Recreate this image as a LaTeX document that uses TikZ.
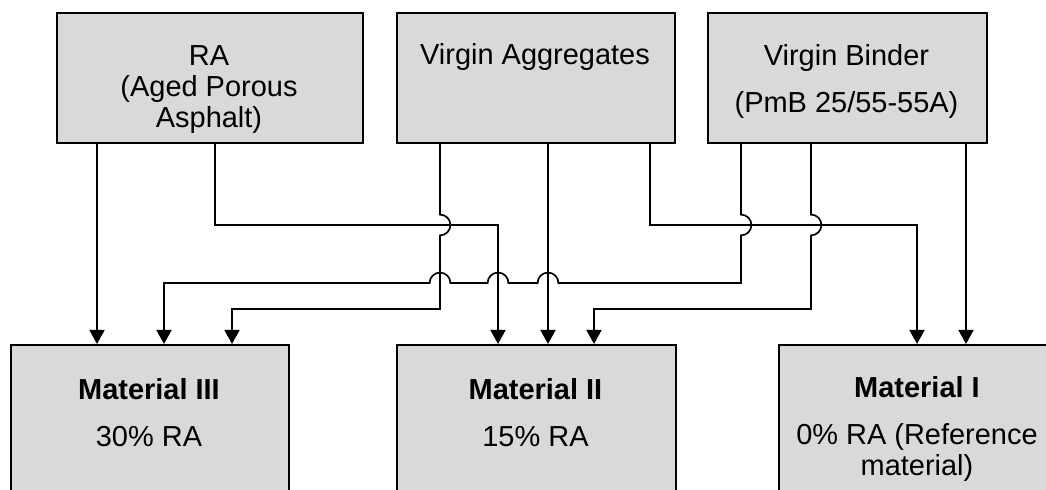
\documentclass[tikz,border=0pt]{standalone}
\usepackage{fontspec}
\setmainfont{Liberation Sans}
\usetikzlibrary{arrows.meta,calc}
\definecolor{boxgray}{RGB}{217,217,217}
\begin{document}
\begin{tikzpicture}[
		box/.style={draw, fill=boxgray, line width=1.3pt, anchor=north west, minimum height=3.25cm, inner sep=0pt},
		matbox/.style={box, minimum height=4.5cm},
		txt/.style={align=center, anchor=base, inner sep=0pt, font=\fontsize{20.6}{22.4}\selectfont},
		conn/.style={line width=1.2pt},
		arr/.style={conn, -{Triangle[width=0.375cm,length=0.35cm]}}
	]
				\clip (0,0) rectangle (26.15,12.25);
				\node[box, minimum width=7.65cm] (ra) at (1.4,11.95) {};
				\node[box, minimum width=6.95cm] (va) at (9.9,11.95) {};
				\node[box, minimum width=6.975cm] (vb) at (17.675,11.95) {};
				\node[matbox, minimum width=6.95cm] (m3) at (0.25,3.65) {};
				\node[matbox, minimum width=6.975cm] (m2) at (9.9,3.65) {};
				\node[matbox, minimum width=6.95cm] (m1) at (19.45,3.65) {};
				\coordinate (hi) at (0,6.625);
				\coordinate (mid) at (0,5.175);
				\coordinate (lo) at (0,4.525);
				\coordinate (k1) at (2.425,0);
				\coordinate (k2) at (5.375,0);
				\coordinate (k3) at (12.45,0);
				\coordinate (k4) at (11,0);
				\coordinate (k5) at (5.8,0);
				\coordinate (k6) at (13.7,0);
				\coordinate (k7) at (16.25,0);
				\coordinate (k8) at (22.925,0);
				\coordinate (k9) at (18.525,0);
				\coordinate (k10) at (4.1,0);
				\coordinate (k11) at (20.275,0);
				\coordinate (k12) at (14.85,0);
				\coordinate (k13) at (24.15,0);
				\draw[arr] (ra.south -| k1) -- (m3.north -| k1);
				\draw[arr] (ra.south -| k2) |- (hi -| k3) -- (m2.north -| k3);
				\draw[arr] (va.south -| k4) -- ($(hi -| k4)+(0,0.26)$) arc[start angle=90, end angle=-90, radius=0.26] |- (lo -| k5) -- (m3.north -| k5);
				\draw[arr] (va.south -| k6) -- (m2.north -| k6);
				\draw[arr] (va.south -| k7) |- (hi -| k8) -- (m1.north -| k8);
				\draw[arr] (vb.south -| k9) -- ($(hi -| k9)+(0,0.26)$) arc[start angle=90, end angle=-90, radius=0.26] |- ($(mid -| k6)+(0.26,0)$) arc[start angle=0, end angle=180, radius=0.26] -- ($(mid -| k3)+(0.26,0)$) arc[start angle=0, end angle=180, radius=0.26] -- ($(mid -| k4)+(0.26,0)$) arc[start angle=0, end angle=180, radius=0.26] -| (m3.north -| k10);
				\draw[arr] (vb.south -| k11) -- ($(hi -| k11)+(0,0.26)$) arc[start angle=90, end angle=-90, radius=0.26] |- (lo -| k12) -- (m2.north -| k12);
				\draw[arr] (vb.south -| k13) -- (m1.north -| k13);
				\node[txt] (ra-txt) at (5.225,9.05) {RA\\(Aged Porous\\Asphalt)};
				\node[txt] (va-txt) at (13.375,10.625) {Virgin Aggregates};
				\node[txt, font=\fontsize{20.6}{34}\selectfont] (vb-txt) at (21.1625,9.425) {Virgin Binder\\(PmB 25/55-55A)};
				\node[txt] (m3-txt) at (3.725,1.075) {\textbf{Material III}\\[11.6pt]30\% RA};
				\node[txt] (m2-txt) at (13.3875,1.075) {\textbf{Material II}\\[11.6pt]15\% RA};
				\node[txt] (m1-txt) at (22.925,0.35) {\textbf{Material I}\\[11pt]0\% RA (Reference\\material)};
\end{tikzpicture}
\end{document}
